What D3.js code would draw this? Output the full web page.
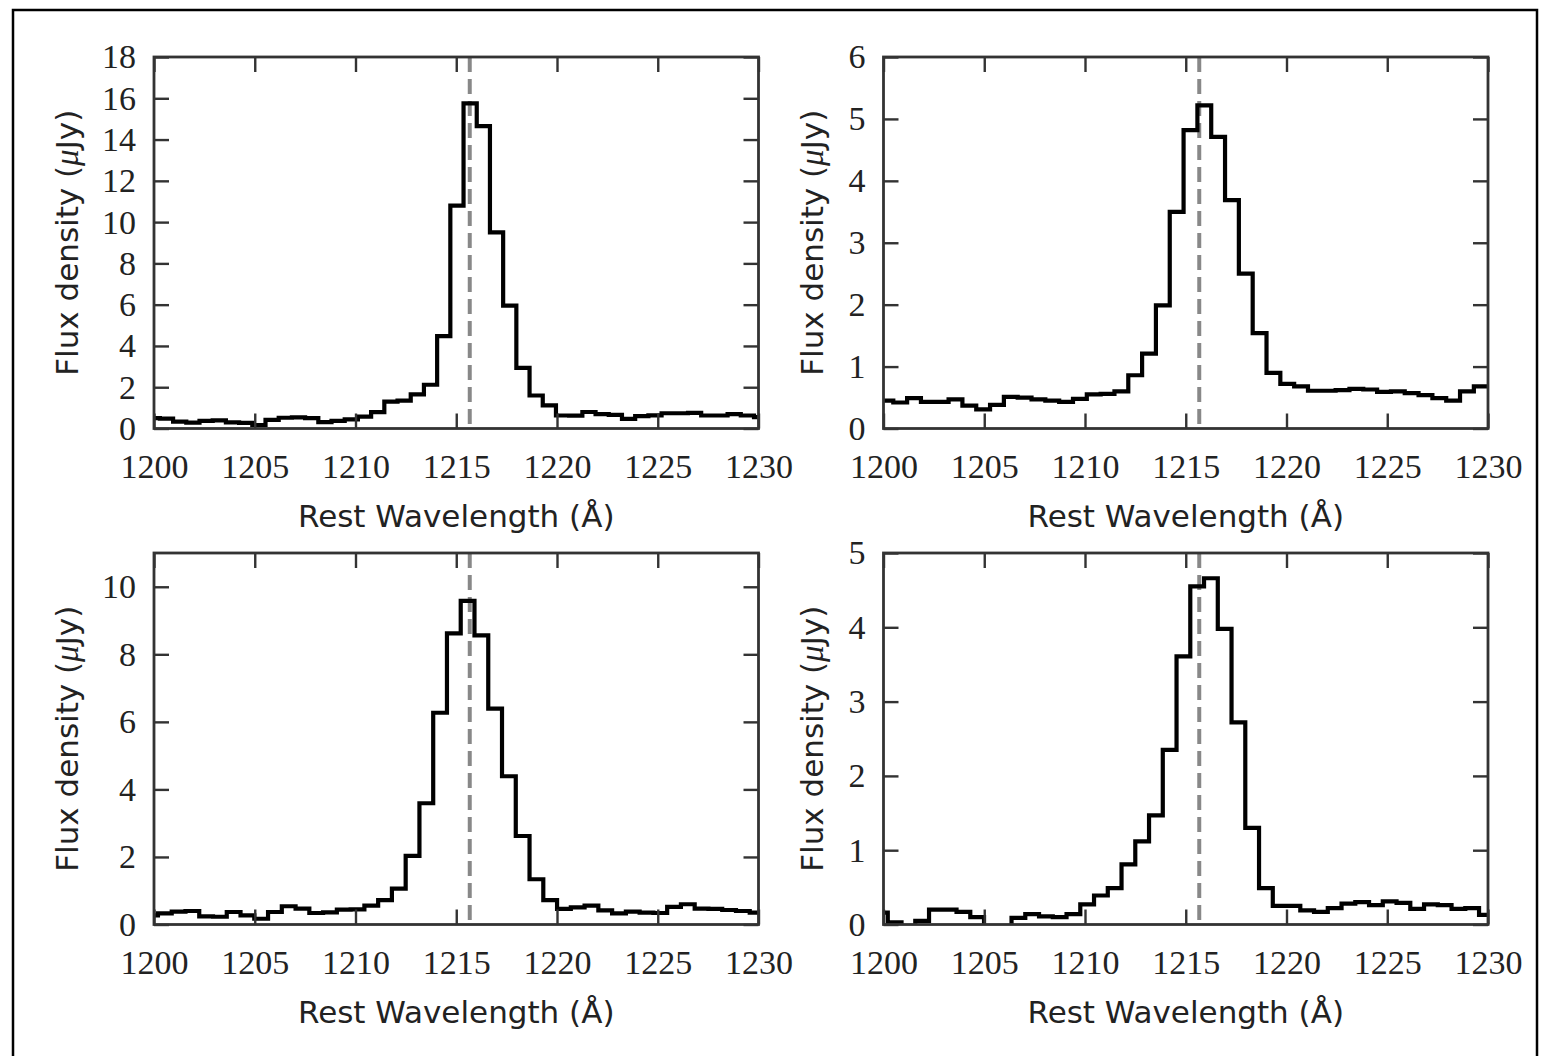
<!DOCTYPE html>
<html>
<head>
<meta charset="utf-8">
<script src="https://cdn.jsdelivr.net/npm/d3@7"></script>
<style>
  body { margin: 0; background: #fff; }
</style>
</head>
<body>
<script>
// rest-frame Lya
var lyaWave = 1215.67;

// x tick labels (same for every panel)
var waveTicks = [1200, 1205, 1210, 1215, 1220, 1225, 1230];

// panel A (top left): bin grid + flux per bin (uJy)
var startA = 1199.637, widthA = 0.6552;
var fluxA = [0.50, 0.48, 0.33, 0.28, 0.37, 0.39, 0.30, 0.27, 0.17, 0.42,
             0.52, 0.54, 0.50, 0.31, 0.37, 0.44, 0.58, 0.79, 1.30, 1.35,
             1.65, 2.12, 4.48, 10.8, 15.75, 14.65, 9.50, 5.95, 2.94, 1.60,
             1.12, 0.63, 0.62, 0.80, 0.70, 0.66, 0.47, 0.60, 0.64, 0.74,
             0.74, 0.76, 0.63, 0.63, 0.70, 0.63, 0.55];
var ticksA = [0, 2, 4, 6, 8, 10, 12, 14, 16, 18];

// panel B (top right)
var startB = 1199.80, widthB = 0.686;
var fluxB = [0.45, 0.42, 0.49, 0.43, 0.43, 0.47, 0.37, 0.31, 0.38, 0.51,
             0.50, 0.47, 0.45, 0.43, 0.48, 0.55, 0.56, 0.60, 0.86, 1.21,
             1.99, 3.50, 4.82, 5.22, 4.71, 3.69, 2.50, 1.54, 0.90, 0.72,
             0.68, 0.61, 0.61, 0.62, 0.64, 0.63, 0.59, 0.60, 0.57, 0.54,
             0.49, 0.45, 0.60, 0.68];
var ticksB = [0, 1, 2, 3, 4, 5, 6];

// panel C (bottom left)
var startC = 1199.513, widthC = 0.683;
var fluxC = [0.27, 0.33, 0.38, 0.40, 0.24, 0.23, 0.37, 0.27, 0.17, 0.37,
             0.54, 0.47, 0.34, 0.36, 0.44, 0.45, 0.56, 0.72, 1.06, 2.03,
             3.59, 6.27, 8.62, 9.58, 8.56, 6.39, 4.39, 2.62, 1.34, 0.72,
             0.46, 0.51, 0.56, 0.42, 0.33, 0.38, 0.35, 0.34, 0.52, 0.60,
             0.47, 0.46, 0.43, 0.40, 0.35];
var ticksC = [0, 2, 4, 6, 8, 10];

// panel D (bottom right), negative bins fall under the axis
var startD = 1199.53, widthD = 0.6824;
var fluxD = [0.16, 0.03, -0.05, 0.05, 0.20, 0.20, 0.17, 0.10, -0.10, -0.05,
             0.09, 0.14, 0.11, 0.10, 0.14, 0.27, 0.39, 0.49, 0.81, 1.12,
             1.47, 2.35, 3.61, 4.55, 4.66, 3.98, 2.72, 1.30, 0.49, 0.25,
             0.25, 0.19, 0.17, 0.22, 0.28, 0.30, 0.26, 0.31, 0.29, 0.21,
             0.27, 0.26, 0.21, 0.22, 0.13];
var ticksD = [0, 1, 2, 3, 4, 5];

var panels = [
  {start: startA, width: widthA, flux: fluxA, yMax: 18, yTicks: ticksA, left: 154,   top: 57,  labelX: 78},
  {start: startB, width: widthB, flux: fluxB, yMax: 6,  yTicks: ticksB, left: 883.5, top: 57,  labelX: 823},
  {start: startC, width: widthC, flux: fluxC, yMax: 11, yTicks: ticksC, left: 154,   top: 553, labelX: 78},
  {start: startD, width: widthD, flux: fluxD, yMax: 5,  yTicks: ticksD, left: 883.5, top: 553, labelX: 823}
];

var W = 1545, H = 1056;
var pw = 604.5, ph = 371.5;
var axisColor = "#333";
var tickFont = "'Liberation Serif', 'Times New Roman', serif";
var labelFont = "'DejaVu Sans', sans-serif";

var svg = d3.select("body").append("svg")
  .attr("width", W)
  .attr("height", H);

// outer frame
svg.append("rect")
  .attr("x", 13).attr("y", 10)
  .attr("width", 1524).attr("height", 1080)
  .attr("fill", "none")
  .attr("stroke", "#000")
  .attr("stroke-width", 2.5);

panels.forEach(function(p, i) {
  var g = svg.append("g")
    .attr("transform", "translate(" + p.left + "," + p.top + ")");

  var x = d3.scaleLinear().domain([1200, 1230]).range([0, pw]);
  var y = d3.scaleLinear().domain([0, p.yMax]).range([ph, 0]);

  g.append("clipPath").attr("id", "clip" + i)
    .append("rect").attr("width", pw).attr("height", ph);

  // step spectrum: bin edges with the flux of each bin
  var pts = p.flux.map(function(v, k) {
    return {w: p.start + k * p.width, f: v};
  });
  pts.push({w: p.start + p.flux.length * p.width, f: p.flux[p.flux.length - 1]});

  var line = d3.line()
    .x(function(d) { return x(d.w); })
    .y(function(d) { return y(d.f); })
    .curve(d3.curveStepAfter);

  // Lya marker
  g.append("line")
    .attr("clip-path", "url(#clip" + i + ")")
    .attr("x1", x(lyaWave)).attr("x2", x(lyaWave))
    .attr("y1", 0).attr("y2", ph)
    .attr("stroke", "#888")
    .attr("stroke-width", 4)
    .attr("stroke-dasharray", "15,7");

  g.append("path")
    .datum(pts)
    .attr("clip-path", "url(#clip" + i + ")")
    .attr("fill", "none")
    .attr("stroke", "#000")
    .attr("stroke-width", 4.2)
    .attr("stroke-linejoin", "miter")
    .attr("d", line);

  // axes, ticks pointing inwards on all four sides
  var xb = g.append("g").attr("transform", "translate(0," + ph + ")")
    .call(d3.axisBottom(x).tickValues(waveTicks).tickFormat(d3.format("d"))
      .tickSizeInner(-15).tickSizeOuter(0).tickPadding(25));
  var xt = g.append("g")
    .call(d3.axisTop(x).tickValues(waveTicks).tickFormat("")
      .tickSizeInner(-15).tickSizeOuter(0));
  var yl = g.append("g")
    .call(d3.axisLeft(y).tickValues(p.yTicks).tickFormat(d3.format("d"))
      .tickSizeInner(-15).tickSizeOuter(0).tickPadding(18));
  var yr = g.append("g").attr("transform", "translate(" + pw + ",0)")
    .call(d3.axisRight(y).tickValues(p.yTicks).tickFormat("")
      .tickSizeInner(-15).tickSizeOuter(0));

  [xb, xt, yl, yr].forEach(function(a) {
    a.select(".domain").remove();
    a.selectAll(".tick line").attr("stroke", axisColor).attr("stroke-width", 2.4);
    a.selectAll(".tick text")
      .attr("fill", "#222")
      .style("font-family", tickFont)
      .style("font-size", "34px");
  });
  yl.selectAll(".tick text").attr("dy", "0.32em");

  g.append("rect")
    .attr("width", pw).attr("height", ph)
    .attr("fill", "none")
    .attr("stroke", axisColor)
    .attr("stroke-width", 2.8);

  // axis titles
  svg.append("text")
    .attr("x", p.left + pw / 2)
    .attr("y", p.top + ph + 98)
    .attr("text-anchor", "middle")
    .attr("fill", "#222")
    .style("font-family", labelFont)
    .style("font-size", "31px")
    .text("Rest Wavelength (\u00C5)");

  var yt = svg.append("text")
    .attr("transform", "translate(" + p.labelX + "," + (p.top + ph / 2) + ") rotate(-90)")
    .attr("text-anchor", "middle")
    .attr("fill", "#222")
    .style("font-family", labelFont)
    .style("font-size", "31px");
  yt.append("tspan").text("Flux density (");
  yt.append("tspan")
    .style("font-family", tickFont)
    .style("font-style", "italic")
    .style("font-size", "33px")
    .text("\u03BC");
  yt.append("tspan").text("Jy)");
});
</script>
</body>
</html>
